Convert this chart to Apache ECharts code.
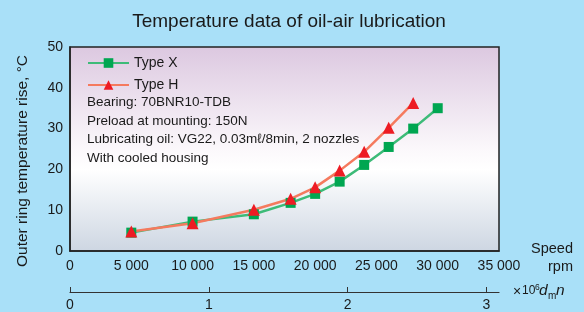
<!DOCTYPE html>
<html>
<head>
<meta charset="utf-8">
<script src="https://cdn.jsdelivr.net/npm/echarts@6/dist/echarts.min.js"></script>
<style>
  html, body { margin: 0; padding: 0; background: #a9e0f8; }
  #main { width: 584px; height: 312px; }
</style>
</head>
<body>
<div id="main"></div>
<script>
  // speed in rpm
  const speedX = [5000, 10000, 15000, 18000, 20000, 22000, 24000, 26000, 28000, 30000]
  const tempX = [4.5, 7.2, 9.0, 11.8, 14.0, 17.0, 21.1, 25.5, 30.0, 35.0]
  const speedH = [5000, 10000, 15000, 18000, 20000, 22000, 24000, 26000, 28000]
  const tempH = [4.8, 6.8, 10.1, 12.8, 15.6, 19.7, 24.3, 30.2, 36.3]
  const dmnTicks = [0, 1, 2, 3]

  const font = 'Liberation Sans, Arial, sans-serif'
  const ink = '#1a1a1a'
  const myChart = echarts.init(document.getElementById('main'))

  const option = {
    backgroundColor: '#a9e0f8',
    animation: false,
    title: {
      text: 'Temperature data of oil-air lubrication',
      left: 284, top: 7, textAlign: 'center',
      textStyle: { fontFamily: font, fontSize: 19, fontWeight: 'normal', color: ink }
    },
    grid: {
      left: 70, right: 85, top: 47, bottom: 61,
      show: true,
      borderColor: '#222', borderWidth: 1.5,
      backgroundColor: new echarts.graphic.LinearGradient(0, 0, 0, 1, [
        { offset: 0, color: '#dcc8e0' },
        { offset: 0.5, color: '#fbf8fb' },
        { offset: 0.6, color: '#ffffff' },
        { offset: 1, color: '#cdd6e2' }
      ])
    },
    legend: {
      orient: 'vertical', left: 82, top: 51,
      itemWidth: 41, itemHeight: 12, itemGap: 8,
      textStyle: { fontFamily: font, fontSize: 14, color: ink },
      data: ['Type X', 'Type H']
    },
    xAxis: [
      {
        type: 'value', min: 0, max: 35000, interval: 5000,
        splitLine: { show: false },
        axisTick: { show: false },
        axisLine: { lineStyle: { color: '#222', width: 1.5 } },
        axisLabel: {
          margin: 8, fontFamily: font, fontSize: 14, color: ink,
          formatter: v => v === 0 ? '0' : String(v).replace(/(\d)(?=(\d{3})+$)/g, '$1 ')
        }
      },
      {
        type: 'value', position: 'bottom', offset: 41, min: 0, max: 3.09,
        splitLine: { show: false },
        axisLine: { lineStyle: { color: '#333', width: 1.2 } },
        axisTick: { inside: true, length: 5, customValues: dmnTicks, lineStyle: { color: '#333' } },
        axisLabel: {
          customValues: dmnTicks, margin: 6,
          fontFamily: font, fontSize: 14, color: ink
        }
      }
    ],
    yAxis: {
      type: 'value', min: 0, max: 50, interval: 10,
      splitLine: { show: false },
      axisTick: { show: false },
      axisLine: { lineStyle: { color: '#222', width: 1.5 } },
      axisLabel: { margin: 7, fontFamily: font, fontSize: 14, color: ink }
    },
    graphic: [
      {
        type: 'text', x: 23, y: 161, rotation: Math.PI / 2,
        style: {
          text: 'Outer ring temperature rise, °C', fontFamily: font, fontSize: 15.5,
          fill: ink, align: 'center', verticalAlign: 'middle'
        }
      },
      { type: 'text', right: 11, top: 241, style: { text: 'Speed', fontFamily: font, fontSize: 14.5, fill: ink, textAlign: 'right' } },
      { type: 'text', right: 11, top: 259, style: { text: 'rpm', fontFamily: font, fontSize: 14.5, fill: ink, textAlign: 'right' } },
      // × 10^6 dm n
      { type: 'text', left: 513, top: 285, style: { text: '×', fontFamily: font, fontSize: 14, fill: ink } },
      { type: 'text', left: 522, top: 285, style: { text: '10', fontFamily: font, fontSize: 12, fill: ink } },
      { type: 'text', left: 535, top: 283, style: { text: '6', fontFamily: font, fontSize: 8.5, fill: ink } },
      { type: 'text', left: 539, top: 283, style: { text: 'd', fontFamily: font, fontSize: 15.5, fontStyle: 'italic', fill: ink } },
      { type: 'text', left: 548, top: 291, style: { text: 'm', fontFamily: font, fontSize: 10, fill: ink } },
      { type: 'text', left: 556, top: 283, style: { text: 'n', fontFamily: font, fontSize: 15.5, fontStyle: 'italic', fill: ink } },
      {
        type: 'text', left: 87, top: 93,
        style: {
          text: 'Bearing: 70BNR10-TDB\nPreload at mounting: 150N\nLubricating oil: VG22, 0.03mℓ/8min, 2 nozzles\nWith cooled housing',
          fontFamily: font, fontSize: 13.5, lineHeight: 18.7, fill: ink
        }
      }
    ],
    series: [
      {
        name: 'Type X', type: 'line',
        data: speedX.map((s, i) => [s, tempX[i]]),
        symbol: 'rect', symbolSize: 10,
        lineStyle: { color: '#3dbb78', width: 2.5 },
        itemStyle: { color: '#00a651' }
      },
      {
        name: 'Type H', type: 'line',
        data: speedH.map((s, i) => [s, tempH[i]]),
        symbol: 'triangle', symbolSize: 12,
        lineStyle: { color: '#f57a5e', width: 2.5 },
        itemStyle: { color: '#ed1c24' }
      }
    ]
  }

  myChart.setOption(option)
</script>
</body>
</html>
